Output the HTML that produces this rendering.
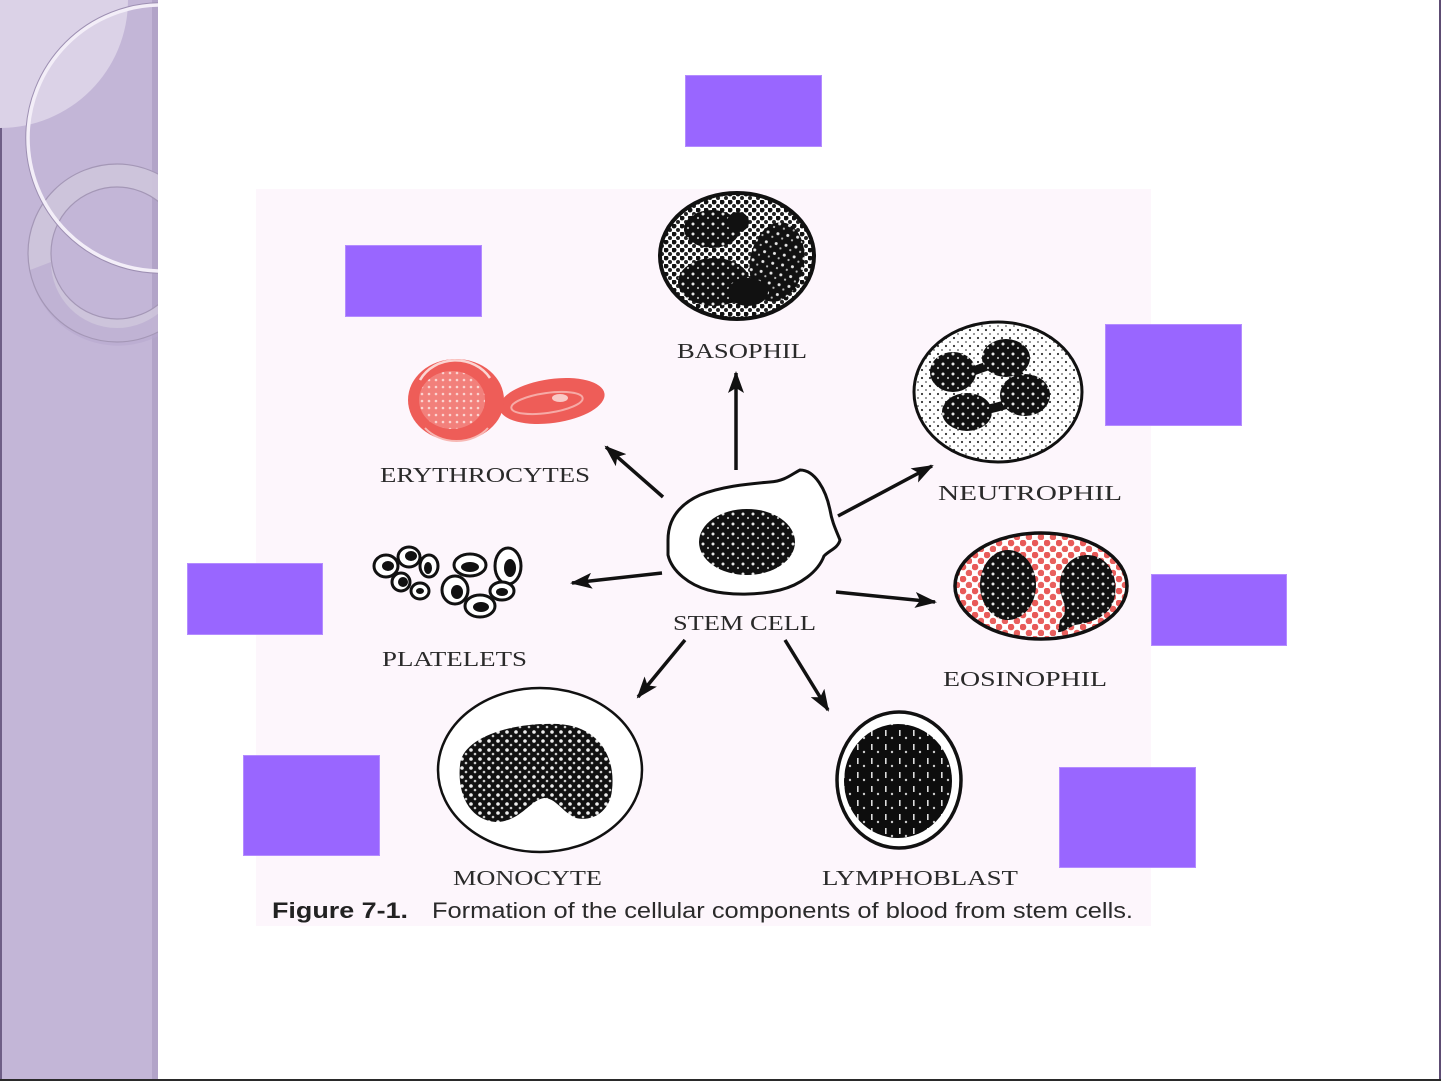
<!DOCTYPE html>
<html><head><meta charset="utf-8"><style>
html,body{margin:0;padding:0;background:#fff;overflow:hidden;}
svg{display:block;}
</style></head><body>
<svg width="1441" height="1081" viewBox="0 0 1441 1081" xmlns="http://www.w3.org/2000/svg">
<defs>
 <clipPath id="side"><rect x="0" y="0" width="158" height="1081"/></clipPath>
 <pattern id="dots" width="8" height="8" patternUnits="userSpaceOnUse">
   <rect width="8" height="8" fill="#fff"/>
   <circle cx="2" cy="2" r="2.5" fill="#111"/>
   <circle cx="6" cy="6" r="2" fill="#222"/>
 </pattern>
 <pattern id="fine" width="8" height="8" patternUnits="userSpaceOnUse">
   <rect width="8" height="8" fill="#fff"/>
   <circle cx="2" cy="2" r="1.1" fill="#333"/>
   <circle cx="6" cy="6" r="0.9" fill="#555"/>
 </pattern>
 <pattern id="red" width="12" height="12" patternUnits="userSpaceOnUse">
   <rect width="12" height="12" fill="#fff"/>
   <circle cx="3" cy="3" r="3.3" fill="#e85a58"/>
   <circle cx="9" cy="9" r="3.3" fill="#e8605e"/>
 </pattern>
 <pattern id="speck" width="10" height="10" patternUnits="userSpaceOnUse">
   <rect width="10" height="10" fill="#111"/>
   <circle cx="3" cy="4" r="1.5" fill="#e8e8e8"/>
   <circle cx="8" cy="8" r="1.1" fill="#bbb"/>
 </pattern>
 <pattern id="speckm" width="9" height="9" patternUnits="userSpaceOnUse">
   <rect width="9" height="9" fill="#111"/>
   <circle cx="3" cy="3" r="1.8" fill="#eee"/>
   <circle cx="7" cy="7" r="1.3" fill="#ccc"/>
 </pattern>
 <pattern id="speck2" width="14" height="14" patternUnits="userSpaceOnUse">
   <rect width="14" height="14" fill="#0d0d0d"/>
   <rect x="3" y="2" width="1.6" height="6" fill="#ddd"/>
   <circle cx="10" cy="10" r="1.2" fill="#ccc"/>
 </pattern>
 <pattern id="rbc" width="7" height="7" patternUnits="userSpaceOnUse">
   <rect width="7" height="7" fill="#f2807b"/>
   <circle cx="2" cy="2" r="1.3" fill="#fbd3d0"/>
 </pattern>
 <marker id="ah" viewBox="0 0 22 16" refX="20" refY="8" markerWidth="22" markerHeight="16" orient="auto" markerUnits="userSpaceOnUse">
   <path d="M0,0 L22,8 L0,16 L5,8 Z" fill="#111"/>
 </marker>
</defs>

<rect x="0" y="0" width="1441" height="1081" fill="#fff"/>

<!-- sidebar -->
<g clip-path="url(#side)">
  <rect x="0" y="0" width="158" height="1081" fill="#c3b6d7"/>
  <rect x="152" y="0" width="6" height="1081" fill="#b2a4c8"/>
  <rect x="0" y="0" width="2" height="1081" fill="#6e5e86"/>
  <circle cx="0" cy="0" r="128" fill="#dbd2e7"/>
  <path d="M117,164 A89,89 0 1,0 117.01,164 Z M117,187 A66,66 0 1,1 116.99,187 Z" fill="#cec5dc" fill-rule="evenodd" opacity="0.9"/>
  <path d="M30,270 A89,89 0 0,0 206,270 L183,262 A66,66 0 0,1 51,262 Z" fill="#b7a8cf" opacity="0.6"/>
  <circle cx="117" cy="253" r="89" fill="none" stroke="#a497b6" stroke-width="1.2"/>
  <circle cx="117" cy="253" r="66" fill="none" stroke="#a497b6" stroke-width="1.2"/>
  <circle cx="161" cy="138" r="135" fill="none" stroke="#9d8fb2" stroke-width="1.5"/>
  <circle cx="161" cy="138" r="133" fill="none" stroke="#f3eef8" stroke-width="3.5"/>
</g>

<rect x="256" y="189" width="895" height="737" fill="#fdf6fc"/>

<!-- BASOPHIL -->
<ellipse cx="737" cy="256" rx="77" ry="63" fill="url(#dots)" stroke="#111" stroke-width="4"/>
<ellipse cx="712" cy="229" rx="28" ry="19" fill="url(#speck)"/>
<ellipse cx="714" cy="282" rx="36" ry="24" fill="url(#speck)"/>
<ellipse cx="777" cy="262" rx="27" ry="40" transform="rotate(10 777 262)" fill="url(#speck)"/>
<ellipse cx="748" cy="292" rx="20" ry="14" fill="#111"/>
<ellipse cx="738" cy="222" rx="11" ry="10" fill="#111"/>

<!-- ERYTHROCYTES -->
<ellipse cx="552" cy="401" rx="53" ry="22" transform="rotate(-8 552 401)" fill="#ee5d58"/>
<ellipse cx="547" cy="403" rx="36" ry="10" transform="rotate(-8 547 403)" fill="none" stroke="#f6aaa6" stroke-width="2"/>
<ellipse cx="560" cy="398" rx="8" ry="4" fill="#f9c9c6"/>
<ellipse cx="456" cy="400" rx="48" ry="41" fill="#ee5d58"/>
<ellipse cx="452" cy="400" rx="33" ry="29" fill="url(#rbc)"/>
<path d="M420,380 A40,36 0 0,1 490,378" fill="none" stroke="#fbd6d3" stroke-width="2.5"/>
<path d="M425,428 A40,34 0 0,0 488,428" fill="none" stroke="#f7b8b4" stroke-width="2"/>

<!-- NEUTROPHIL -->
<ellipse cx="998" cy="392" rx="84" ry="70" fill="url(#fine)" stroke="#111" stroke-width="3"/>
<path d="M955,378 C975,370 990,365 1005,360 M1010,362 C1020,375 1025,385 1027,395 M1020,400 C1005,405 990,410 970,412" stroke="#111" stroke-width="9" fill="none"/>
<ellipse cx="953" cy="372" rx="23" ry="20" fill="url(#speck)"/>
<ellipse cx="1006" cy="358" rx="24" ry="19" fill="url(#speck)"/>
<ellipse cx="1025" cy="395" rx="25" ry="21" fill="url(#speck)"/>
<ellipse cx="967" cy="412" rx="25" ry="19" fill="url(#speck)"/>

<!-- STEM CELL -->
<path d="M668,540 C668,520 678,505 700,495 C720,487 745,484 770,482 C785,481 792,474 800,470 C815,470 826,490 830,510 C832,522 836,530 840,540 C838,548 830,550 824,556 C818,572 800,585 780,590 C760,595 730,596 708,590 C690,585 672,572 668,555 Z" fill="#fff" stroke="#111" stroke-width="3"/>
<ellipse cx="747" cy="542" rx="48" ry="33" fill="url(#speck)"/>

<!-- PLATELETS -->
<g stroke="#111" stroke-width="3" fill="#fff">
  <ellipse cx="386" cy="566" rx="12" ry="11"/>
  <ellipse cx="409" cy="557" rx="11" ry="10"/>
  <ellipse cx="429" cy="566" rx="9" ry="11"/>
  <ellipse cx="401" cy="582" rx="9" ry="9"/>
  <ellipse cx="420" cy="591" rx="9" ry="8"/>
  <ellipse cx="470" cy="565" rx="16" ry="11"/>
  <ellipse cx="508" cy="566" rx="13" ry="18"/>
  <ellipse cx="502" cy="591" rx="12" ry="9"/>
  <ellipse cx="480" cy="606" rx="15" ry="11"/>
  <ellipse cx="455" cy="590" rx="13" ry="14"/>
</g>
<g fill="#111">
  <ellipse cx="388" cy="566" rx="6" ry="5"/>
  <ellipse cx="411" cy="556" rx="6" ry="5"/>
  <ellipse cx="428" cy="568" rx="4" ry="6"/>
  <ellipse cx="403" cy="582" rx="5" ry="5"/>
  <ellipse cx="420" cy="591" rx="4" ry="3"/>
  <ellipse cx="470" cy="567" rx="9" ry="5"/>
  <ellipse cx="510" cy="568" rx="6" ry="9"/>
  <ellipse cx="502" cy="592" rx="6" ry="4"/>
  <ellipse cx="481" cy="607" rx="8" ry="5"/>
  <ellipse cx="457" cy="592" rx="6" ry="7"/>
</g>

<!-- EOSINOPHIL -->
<ellipse cx="1041" cy="586" rx="86" ry="53" fill="url(#red)" stroke="#111" stroke-width="3.5"/>
<ellipse cx="1008" cy="585" rx="28" ry="35" fill="url(#speck)"/>
<path d="M1060,620 C1070,612 1062,600 1060,590 C1058,570 1070,555 1088,555 C1108,556 1118,575 1115,595 C1112,615 1095,622 1075,625 C1068,628 1062,633 1058,632 Z" fill="url(#speck)"/>

<!-- MONOCYTE -->
<ellipse cx="540" cy="770" rx="102" ry="82" fill="#fff" stroke="#111" stroke-width="2.5"/>
<path d="M460,765 C462,738 510,722 558,724 C598,726 616,756 612,790 C610,812 592,822 576,818 C562,812 556,798 544,798 C530,800 520,822 496,822 C470,820 457,795 460,765 Z" fill="url(#speckm)"/>

<!-- LYMPHOBLAST -->
<ellipse cx="899" cy="780" rx="62" ry="68" fill="#fff" stroke="#111" stroke-width="3.5"/>
<ellipse cx="898" cy="781" rx="54" ry="57" fill="url(#speck2)"/>

<!-- ARROWS -->
<g stroke="#111" stroke-width="3.5" fill="none" marker-end="url(#ah)">
  <line x1="736" y1="470" x2="736" y2="373"/>
  <line x1="663" y1="497" x2="606" y2="447"/>
  <line x1="838" y1="516" x2="932" y2="466"/>
  <line x1="662" y1="573" x2="572" y2="583"/>
  <line x1="836" y1="592" x2="935" y2="602"/>
  <line x1="685" y1="640" x2="638" y2="697"/>
  <line x1="785" y1="640" x2="828" y2="710"/>
</g>

<!-- LABELS -->
<g font-family="'Liberation Serif', serif" font-size="21" fill="#2a2a2a">
  <text x="677" y="358" textLength="130" lengthAdjust="spacingAndGlyphs">BASOPHIL</text>
  <text x="380" y="482" textLength="210" lengthAdjust="spacingAndGlyphs">ERYTHROCYTES</text>
  <text x="938" y="500" textLength="184" lengthAdjust="spacingAndGlyphs">NEUTROPHIL</text>
  <text x="673" y="630" textLength="143" lengthAdjust="spacingAndGlyphs">STEM CELL</text>
  <text x="382" y="666" textLength="145" lengthAdjust="spacingAndGlyphs">PLATELETS</text>
  <text x="943" y="686" textLength="164" lengthAdjust="spacingAndGlyphs">EOSINOPHIL</text>
  <text x="453" y="885" textLength="149" lengthAdjust="spacingAndGlyphs">MONOCYTE</text>
  <text x="822" y="885" textLength="196" lengthAdjust="spacingAndGlyphs">LYMPHOBLAST</text>
</g>
<text x="272" y="918" font-family="'Liberation Sans', sans-serif" font-weight="bold" font-size="22" fill="#222" textLength="136" lengthAdjust="spacingAndGlyphs">Figure 7-1.</text>
<text x="432" y="918" font-family="'Liberation Sans', sans-serif" font-size="22" fill="#2a2a2a" textLength="701" lengthAdjust="spacingAndGlyphs">Formation of the cellular components of blood from stem cells.</text>

<!-- PURPLE BOXES -->
<g fill="#9966ff" stroke="#b48cff" stroke-width="1">
  <rect x="685.5" y="75.5" width="136" height="71"/>
  <rect x="345.5" y="245.5" width="136" height="71"/>
  <rect x="1105.5" y="324.5" width="136" height="101"/>
  <rect x="187.5" y="563.5" width="135" height="71"/>
  <rect x="1151.5" y="574.5" width="135" height="71"/>
  <rect x="243.5" y="755.5" width="136" height="100"/>
  <rect x="1059.5" y="767.5" width="136" height="100"/>
</g>

<rect x="1439" y="0" width="2" height="1081" fill="#5d4c73"/>
<rect x="0" y="1079" width="1441" height="2" fill="#2a2a2a"/>
</svg>
</body></html>
